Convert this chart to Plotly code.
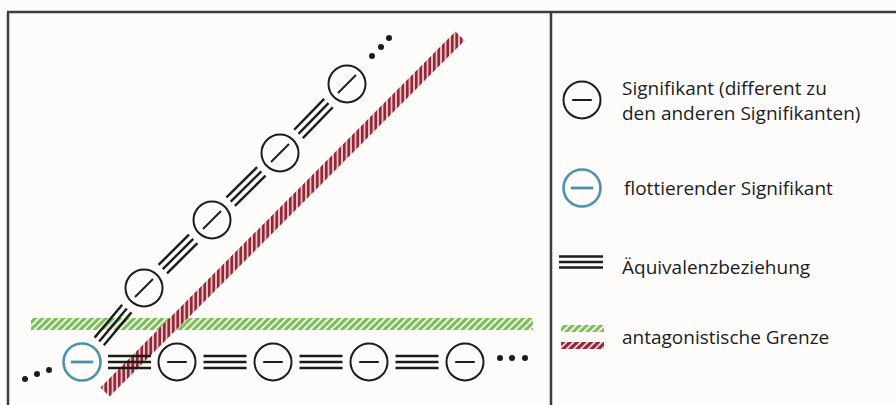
import math
import plotly.graph_objects as go

# ---- diagram data (pixel-space coordinates of the nodes) ----
float_node_x = [82]
float_node_y = [362]
bottom_x = [177, 273, 369, 465]
bottom_y = [362, 362, 362, 362]
diag_x = [144, 212, 280, 347]
diag_y = [288, 220, 153, 84]
dots_left_x = [25, 37, 49]
dots_left_y = [379, 374, 370]
dots_right_x = [500, 512, 525]
dots_right_y = [358, 358, 358]
dots_top_x = [372, 381, 389]
dots_top_y = [56, 47, 38]
green_band_x = [31, 533]
green_band_y = [318, 330]
red_band_x = [105, 460]
red_band_y = [392, 36]
red_band_halfwidth = 6.5

legend_labels = [
    "Signifikant (different zu<br>den anderen Signifikanten)",
    "flottierender Signifikant",
    "Äquivalenzbeziehung",
    "antagonistische Grenze",
]
legend_y = [100, 188, 267, 337]

W, H = 896, 405
BLACK = "#1c1c1c"
BLUE = "#4a92b0"
GREEN = "#78bd55"
RED = "#962536"
FRAME = "#3d3d3f"
BG = "#fdfcfa"
FONT = "Open Sans"

fig = go.Figure()


def add_band(xs, ys, color, shape, size, solidity):
    fig.add_trace(go.Scatter(
        x=xs, y=ys, mode="lines", fill="toself",
        line=dict(width=0, color=color),
        fillcolor=BG,
        fillpattern=dict(shape=shape, fgcolor=color, bgcolor=BG, fgopacity=1,
                         size=size, solidity=solidity),
        hoverinfo="skip", showlegend=False,
    ))


def rect(x0, x1, y0, y1):
    return [x0, x1, x1, x0, x0], [y0, y0, y1, y1, y0]


# green antagonistic border (horizontal)
gx, gy = rect(green_band_x[0], green_band_x[1], green_band_y[0], green_band_y[1])
add_band(gx, gy, GREEN, "/", 5, 0.65)

# red antagonistic border (diagonal)
dx = red_band_x[1] - red_band_x[0]
dy = red_band_y[1] - red_band_y[0]
L = math.hypot(dx, dy)
nx, ny = -dy / L * red_band_halfwidth, dx / L * red_band_halfwidth
rx = [red_band_x[0] + nx, red_band_x[1] + nx, red_band_x[1] - nx, red_band_x[0] - nx, red_band_x[0] + nx]
ry = [red_band_y[0] + ny, red_band_y[1] + ny, red_band_y[1] - ny, red_band_y[0] - ny, red_band_y[0] + ny]
add_band(rx, ry, RED, "|", 4.5, 0.7)


def connector(p, q, half=21.5, gap=6):
    xs, ys = [], []
    mx, my = (p[0] + q[0]) / 2, (p[1] + q[1]) / 2
    ddx, ddy = q[0] - p[0], q[1] - p[1]
    ln = math.hypot(ddx, ddy)
    ux, uy = ddx / ln, ddy / ln
    px, py = -uy, ux
    for k in (-1, 0, 1):
        cx, cy = mx + k * gap * px, my + k * gap * py
        xs += [cx - half * ux, cx + half * ux, None]
        ys += [cy - half * uy, cy + half * uy, None]
    return xs, ys


cx_all, cy_all = [], []
row = list(zip(float_node_x + bottom_x, float_node_y + bottom_y))
for a, b in zip(row[:-1], row[1:]):
    xs, ys = connector(a, b)
    cx_all += xs
    cy_all += ys
drow = list(zip(float_node_x + diag_x, float_node_y + diag_y))
for a, b in zip(drow[:-1], drow[1:]):
    xs, ys = connector(a, b)
    cx_all += xs
    cy_all += ys
fig.add_trace(go.Scatter(x=cx_all, y=cy_all, mode="lines",
                         line=dict(color=BLACK, width=2.4),
                         hoverinfo="skip", showlegend=False))

CIRC = 37


def circles(xs, ys, color, inner, inner_size, lw=2, ilw=2):
    fig.add_trace(go.Scatter(x=xs, y=ys, mode="markers",
                             marker=dict(symbol="circle-open", size=CIRC, color=color,
                                         line=dict(width=lw, color=color)),
                             hoverinfo="skip", showlegend=False))
    fig.add_trace(go.Scatter(x=xs, y=ys, mode="markers",
                             marker=dict(symbol=inner, size=inner_size, color=color,
                                         line=dict(width=ilw, color=color)),
                             hoverinfo="skip", showlegend=False))


circles(bottom_x, bottom_y, BLACK, "line-ew-open", 14)
circles(diag_x, diag_y, BLACK, "line-ne-open", 18)
circles(float_node_x, float_node_y, BLUE, "line-ew-open", 16, lw=2.6, ilw=2.8)

# ellipsis dots
fig.add_trace(go.Scatter(x=dots_left_x + dots_right_x + dots_top_x,
                         y=dots_left_y + dots_right_y + dots_top_y,
                         mode="markers", marker=dict(size=6, color=BLACK),
                         hoverinfo="skip", showlegend=False))

# ---- legend ----
LX = 582
circles([LX], [legend_y[0]], BLACK, "line-ew-open", 14)
circles([LX], [legend_y[1]], BLUE, "line-ew-open", 16, lw=2.6, ilw=2.8)
lx_eq, ly_eq = [], []
for off in (-5.5, 0, 5.5):
    lx_eq += [559, 603, None]
    ly_eq += [legend_y[2] - 5 + off, legend_y[2] - 5 + off, None]
fig.add_trace(go.Scatter(x=lx_eq, y=ly_eq, mode="lines",
                         line=dict(color=BLACK, width=2.4),
                         hoverinfo="skip", showlegend=False))
gx2, gy2 = rect(561, 604, legend_y[3] - 12, legend_y[3] - 5)
add_band(gx2, gy2, GREEN, "/", 5, 0.65)
rx2, ry2 = rect(561, 604, legend_y[3] + 5, legend_y[3] + 12)
add_band(rx2, ry2, RED, "/", 5, 0.7)

text_x = [620, 622, 620, 620]
for tx, ty, lab in zip(text_x, legend_y, legend_labels):
    fig.add_annotation(x=tx, y=ty, text=lab, showarrow=False,
                       xanchor="left", yanchor="middle", align="left",
                       font=dict(family=FONT, size=19, color=BLACK))

# ---- frame ----
frame = [
    dict(x0=7, x1=W, y0=12, y1=12),
    dict(x0=8, x1=8, y0=12, y1=H),
    dict(x0=551, x1=551, y0=12, y1=H),
]
for f in frame:
    fig.add_shape(type="line", xref="x", yref="y", line=dict(color=FRAME, width=2.5), **f)

fig.update_layout(
    width=W, height=H,
    margin=dict(l=0, r=0, t=0, b=0),
    paper_bgcolor=BG, plot_bgcolor=BG,
    xaxis=dict(range=[0, W], visible=False, fixedrange=True),
    yaxis=dict(range=[H, 0], visible=False, fixedrange=True),
    showlegend=False,
)
fig.write_html("out.html", config={"displayModeBar": False},
               post_script="document.body.style.margin='0';document.body.style.overflow='hidden';")
